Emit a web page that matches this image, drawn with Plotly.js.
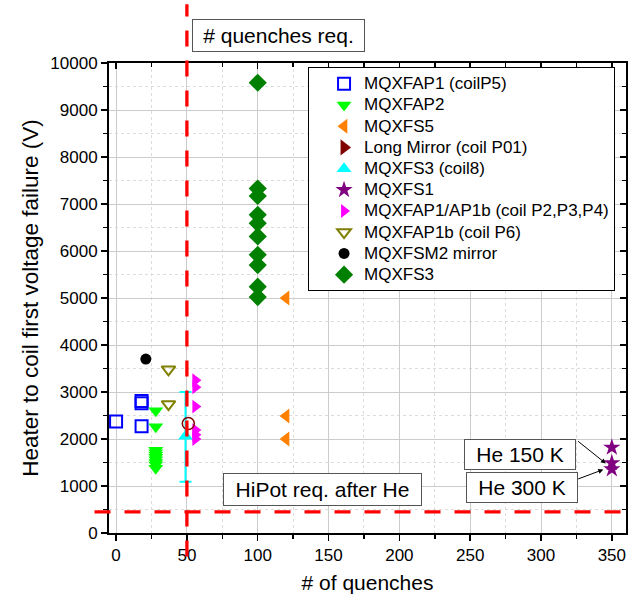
<!DOCTYPE html>
<html>
<head>
<meta charset="utf-8">
<script src="https://cdn.plot.ly/plotly-3.0.1.min.js"></script>
<style>html,body{margin:0;padding:0;background:#fff;}#chart{width:643px;height:598px;}</style>
</head>
<body>
<div id="chart"></div>
<script>
// ---- data ----
var seriesNames = ["MQXFAP1 (coilP5)", "MQXFAP2", "MQXFS5", "Long Mirror (coil P01)", "MQXFS3 (coil8)",
  "MQXFS1", "MQXFAP1/AP1b (coil P2,P3,P4)", "MQXFAP1b (coil P6)", "MQXFSM2 mirror", "MQXFS3"];

var ap1P5_x = [0, 18, 18, 18];
var ap1P5_y = [2370, 2810, 2760, 2270];

var ap2_x = [28, 28, 28, 28, 28, 28, 28, 28, 28, 28];
var ap2_y = [2600, 2260, 1760, 1710, 1660, 1610, 1560, 1500, 1450, 1380];

var s5_x = [120, 120, 120];
var s5_y = [5000, 2490, 2000];

var longMirror_x = [null];
var longMirror_y = [null];

var longMirrorCircle_x = [51];
var longMirrorCircle_y = [2330];

var s3coil8_x = [49];
var s3coil8_y = [2060];
var s3coil8_errPlus = [940];
var s3coil8_errMinus = [970];

var s1_x = [350, 350, 350];
var s1_y = [1820, 1490, 1360];

var ap1b_x = [56, 56, 56, 56, 56, 56];
var ap1b_y = [3250, 3100, 2690, 2190, 2090, 2000];

var ap1bP6_x = [37, 37];
var ap1bP6_y = [3480, 2740];

var sm2_x = [21];
var sm2_y = [3700];

var s3_x = [100, 100, 100, 100, 100, 100, 100, 100, 100, 100];
var s3_y = [9580, 7330, 7170, 6770, 6590, 6310, 5920, 5700, 5240, 5020];

var quenchReq = 50;
var hipotReq = 450;

var xTitle = "# of quenches";
var yTitle = "Heater to coil first voltage failure (V)";

// ---- traces ----
function legendName(n) { return '<span style="font-size:17px">' + n + '</span>'; }
function pts(name, x, y, symbol, color, size, extra) {
  var t = {type: "scatter", mode: "markers", name: legendName(name), x: x, y: y,
    marker: {symbol: symbol, color: color, size: size, line: {width: 0, color: color}}};
  if (extra) for (var k in extra) t[k] = extra[k];
  return t;
}
var traces = [
  pts(seriesNames[0], ap1P5_x, ap1P5_y, "square-open", "#0000FF", 12, {marker: {symbol: "square-open", color: "#0000FF", size: 12, line: {width: 2, color: "#0000FF"}}}),
  pts(seriesNames[1], ap2_x, ap2_y, "triangle-down", "#00FF00", 13),
  pts(seriesNames[2], s5_x, s5_y, "triangle-left", "#FF8000", 13),
  pts(seriesNames[3], longMirror_x, longMirror_y, "triangle-right", "#800000", 14),
  pts(seriesNames[4], s3coil8_x, s3coil8_y, "triangle-up", "#00FFFF", 13,
      {error_y: {type: "data", symmetric: false, array: s3coil8_errPlus, arrayminus: s3coil8_errMinus, color: "#00FFFF", thickness: 2, width: 6}}),
  pts(seriesNames[5], s1_x, s1_y, "star", "#800080", 13),
  pts(seriesNames[6], ap1b_x, ap1b_y, "triangle-right", "#FF00FF", 12),
  pts(seriesNames[7], ap1bP6_x, ap1bP6_y, "triangle-down-open", "#808000", 12, {marker: {symbol: "triangle-down-open", color: "#808000", size: 12, line: {width: 2, color: "#808000"}}}),
  pts(seriesNames[8], sm2_x, sm2_y, "circle", "#000000", 11),
  pts(seriesNames[9], s3_x, s3_y, "diamond", "#008000", 14),
  {type: "scatter", mode: "markers", x: longMirrorCircle_x, y: longMirrorCircle_y, showlegend: false, hoverinfo: "skip",
    marker: {symbol: "circle-open", size: 12, color: "#800000", line: {width: 1.5, color: "#800000"}}},
  {type: "scatter", mode: "markers", x: [null], y: [null], xaxis: "x2", yaxis: "y2", showlegend: false, hoverinfo: "skip"}
];

var FONT = "Liberation Sans, Arial, sans-serif";
var xRange = [-5, 360];
var yRange = [0, 10000];

var layout = {
  width: 643, height: 598,
  margin: {l: 109, r: 17, t: 63, b: 65},
  paper_bgcolor: "#fff", plot_bgcolor: "#fff",
  font: {family: FONT, color: "#000"},
  showlegend: true,
  legend: {x: 0.385, y: 0.991, xanchor: "left", yanchor: "top", bgcolor: "#fff",
    bordercolor: "#000", borderwidth: 1, font: {family: FONT, size: 14, color: "#000"}, indentation: 15},
  xaxis: {range: xRange, dtick: 50, tick0: 0, showgrid: true, gridcolor: "#cccccc", gridwidth: 1,
    zeroline: false, showline: true, linecolor: "#000", linewidth: 2, mirror: true,
    ticks: "outside", ticklen: 6, tickwidth: 1.5, tickcolor: "#000", tickformat: "d",
    tickfont: {family: FONT, size: 17, color: "#000"},
    minor: {dtick: 25, showgrid: true, gridcolor: "#dddddd", griddash: "dot", ticks: "outside", ticklen: 4, tickcolor: "#000"},
    title: {text: xTitle, font: {family: FONT, size: 21, color: "#000"}, standoff: 11}},
  yaxis: {range: yRange, dtick: 1000, tick0: 0, showgrid: true, gridcolor: "#cccccc", gridwidth: 1,
    zeroline: false, showline: true, linecolor: "#000", linewidth: 2, mirror: true,
    ticks: "outside", ticklen: 6, tickwidth: 1.5, tickcolor: "#000", tickformat: "d",
    tickfont: {family: FONT, size: 17, color: "#000"},
    minor: {dtick: 500, showgrid: true, gridcolor: "#dddddd", griddash: "dot", ticks: "outside", ticklen: 4, tickcolor: "#000"},
    title: {text: yTitle, font: {family: FONT, size: 22.5, color: "#000"}, standoff: 5}},
  xaxis2: {overlaying: "x", side: "top", anchor: "y", range: xRange, dtick: 50, tick0: 0, showgrid: false, zeroline: false,
    showline: false, ticks: "inside", ticklen: 6, tickwidth: 1.5, tickcolor: "#000", showticklabels: false,
    minor: {dtick: 25, ticks: "inside", ticklen: 4, tickcolor: "#000", showgrid: false}},
  yaxis2: {overlaying: "y", side: "right", anchor: "x", range: yRange, dtick: 1000, tick0: 0, showgrid: false, zeroline: false,
    showline: false, ticks: "inside", ticklen: 6, tickwidth: 1.5, tickcolor: "#000", showticklabels: false,
    minor: {dtick: 500, ticks: "inside", ticklen: 4, tickcolor: "#000", showgrid: false}},
  shapes: [
    {type: "line", layer: "above", xref: "x", yref: "paper", x0: quenchReq, x1: quenchReq, y0: -0.05, y1: 1.125,
      line: {color: "#FF0000", width: 3.3, dash: "16px,14px"}},
    {type: "line", layer: "above", xref: "paper", yref: "y", x0: -0.028, x1: 1, y0: hipotReq, y1: hipotReq,
      line: {color: "#FF0000", width: 3.3, dash: "16px,14px"}}
  ],
  annotations: [
    {xref: "x", yref: "paper", x: 114.5, y: 1.0575, xanchor: "center", yanchor: "middle", text: "# quenches req.", showarrow: false,
      font: {family: FONT, size: 21, color: "#000"}, bgcolor: "#fff", bordercolor: "#555", borderwidth: 1,
      borderpad: 3, width: 165, height: 25},
    {xref: "x", yref: "y", x: 146, y: 916, xanchor: "center", yanchor: "middle", text: "HiPot req. after He", showarrow: false,
      font: {family: FONT, size: 21, color: "#000"}, bgcolor: "#fff", bordercolor: "#555", borderwidth: 1,
      borderpad: 3, width: 191, height: 25},
    {xref: "x", yref: "y", x: 285, y: 1676, xanchor: "center", yanchor: "middle", text: "He 150 K", showarrow: false,
      font: {family: FONT, size: 21, color: "#000"}, bgcolor: "#fff", bordercolor: "#555", borderwidth: 1,
      borderpad: 3, width: 104, height: 23},
    {xref: "x", yref: "y", x: 286.5, y: 963, xanchor: "center", yanchor: "middle", text: "He 300 K", showarrow: false,
      font: {family: FONT, size: 21, color: "#000"}, bgcolor: "#fff", bordercolor: "#555", borderwidth: 1,
      borderpad: 3, width: 104, height: 23},
    {xref: "x", yref: "y", axref: "x", ayref: "y", x: 345.8, y: 1478, ax: 325.2, ay: 1975, text: "",
      showarrow: true, arrowhead: 2, arrowsize: 1, arrowwidth: 1, arrowcolor: "#000"},
    {xref: "x", yref: "y", axref: "x", ayref: "y", x: 344, y: 1350, ax: 325.2, ay: 1138, text: "",
      showarrow: true, arrowhead: 2, arrowsize: 1, arrowwidth: 1, arrowcolor: "#000"}
  ]
};

Plotly.newPlot("chart", traces, layout, {staticPlot: true, displayModeBar: false});
</script>
</body>
</html>
